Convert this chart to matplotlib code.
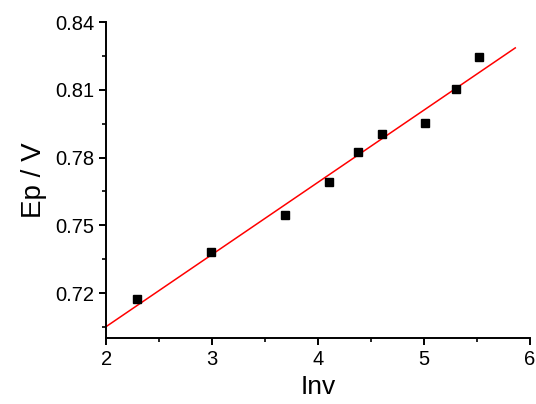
import matplotlib.pyplot as plt
import numpy as np
from matplotlib.ticker import MultipleLocator

plt.rcParams['font.family'] = ['Liberation Sans', 'DejaVu Sans']

# data
inv = [2.29, 2.99, 3.69, 4.10, 4.38, 4.60, 5.01, 5.30, 5.52]
ep = [0.7173, 0.7382, 0.7545, 0.7692, 0.7824, 0.7904, 0.7953, 0.8103, 0.8245]
fit_range = [2.0, 5.86]

fig = plt.figure(figsize=(5.36, 4.04), dpi=100)
ax = fig.add_axes([0.198, 0.163, 0.791, 0.782])

# linear fit
m, c = np.polyfit(inv, ep, 1)
xf = np.array(fit_range)
ax.plot(xf, m * xf + c, color='red', lw=1.1, zorder=2)
ax.plot(inv, ep, 's', color='black', ms=5.8, zorder=3)

ax.set_xlim(2, 6)
ax.set_ylim(0.70, 0.84)
ax.xaxis.set_major_locator(MultipleLocator(1))
ax.xaxis.set_minor_locator(MultipleLocator(0.5))
ax.yaxis.set_minor_locator(MultipleLocator(0.015))
ax.set_yticks([0.72, 0.75, 0.78, 0.81, 0.84])
ax.set_yticklabels(['0.72', '0.75', '0.78', '0.81', '0.84'])

for s in ['top', 'right']:
    ax.spines[s].set_visible(False)
for s in ['left', 'bottom']:
    ax.spines[s].set_linewidth(1.4)
ax.tick_params(which='major', direction='out', length=5, width=1.4, labelsize=14.5)
ax.tick_params(which='minor', direction='out', length=3, width=1.2)

ax.set_xlabel('Inv', fontsize=19, labelpad=4)
ax.set_ylabel('Ep / V', fontsize=20, labelpad=6)

fig.savefig('out.png', dpi=100)
